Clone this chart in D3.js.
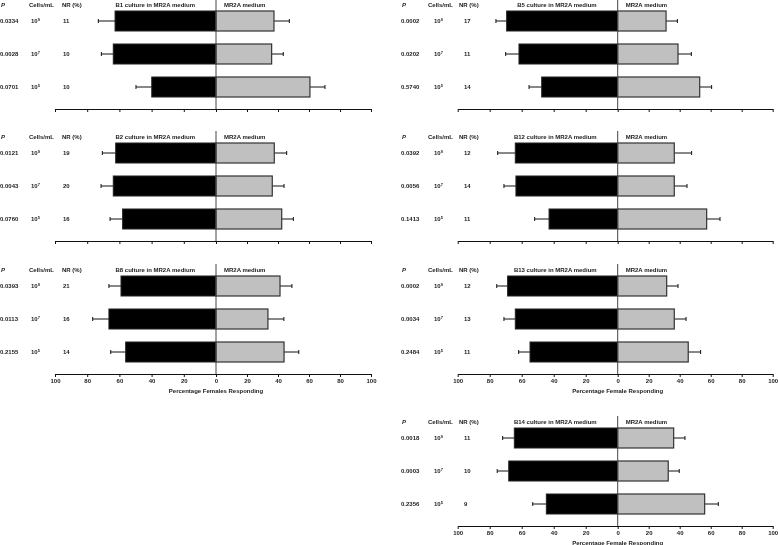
<!DOCTYPE html>
<html>
<head>
<meta charset="utf-8">
<script src="https://cdn.jsdelivr.net/npm/d3@7"></script>
<style>
  body { margin: 0; background: #fff; }
  svg { will-change: transform; }
  text { font-family: "Liberation Sans", Arial, sans-serif; font-weight: bold; fill: #222; }
</style>
</head>
<body>
<div id="chart"></div>
<script>
// data
var strains = ["B1", "B2", "B8", "B5", "B12", "B13", "B14"];
var cellExp = [9, 7, 5];
var pValues = [
  ["0.0334", "0.0028", "0.0701"],
  ["0.0121", "0.0043", "0.0760"],
  ["0.0393", "0.0113", "0.2155"],
  ["0.0002", "0.0202", "0.5740"],
  ["0.0392", "0.0056", "0.1413"],
  ["0.0002", "0.0034", "0.2484"],
  ["0.0018", "0.0003", "0.2356"]
];
var nrValues = [
  [11, 10, 10],
  [19, 20, 16],
  [21, 16, 14],
  [17, 11, 14],
  [12, 14, 11],
  [12, 13, 11],
  [11, 10, 9]
];
// % females choosing the culture side (drawn to the left)
var cultureMean = [
  [62.7, 63.8, 39.9],
  [62.3, 63.8, 58.0],
  [59.0, 66.5, 56.1],
  [69.4, 61.7, 47.5],
  [64.0, 63.6, 42.9],
  [68.8, 64.0, 54.8],
  [64.6, 68.1, 44.6]
];
var cultureErr = [
  [10.4, 7.4, 9.8],
  [8.3, 7.6, 7.8],
  [7.5, 10.1, 9.3],
  [6.7, 8.3, 7.9],
  [11.0, 7.5, 9.0],
  [6.8, 7.1, 7.1],
  [7.3, 7.2, 8.5]
];
// % females choosing the plain medium side (drawn to the right)
var mediumMean = [
  [37.4, 35.9, 60.6],
  [37.6, 36.3, 42.4],
  [41.3, 33.5, 43.9],
  [31.2, 38.9, 52.9],
  [36.5, 36.5, 57.4],
  [31.6, 36.5, 45.5],
  [36.1, 32.6, 56.1]
];
var mediumErr = [
  [9.9, 7.5, 9.7],
  [8.0, 7.6, 7.5],
  [7.7, 10.3, 9.5],
  [7.3, 8.6, 7.7],
  [11.2, 8.2, 8.6],
  [7.3, 7.6, 8.0],
  [7.3, 7.1, 8.8]
];
var tickValues = [-100, -80, -60, -40, -20, 0, 20, 40, 60, 80, 100];
var axisTitles = ["", "", "Percentage Females Responding", "", "", "Percentage Female Responding", "Percentage Female Responding"];

// layout
var W = 778, H = 545;
var columns = [
  {range: [55, 216, 371], p: 0, cells: 29, ten: 31, nr: 62, nrv: 63},
  {range: [457.7, 617.7, 772.7], p: 401, cells: 428, ten: 434, nr: 459, nrv: 464}
];
var panelCol = [0, 0, 0, 1, 1, 1, 1];
var panelTop = [0, 132, 265, 0, 132, 265, 417];
var rowY = [21, 54, 87];
var axisY = 109;
var barH = 20;

var svg = d3.select("#chart").append("svg")
    .attr("width", W)
    .attr("height", H);

strains.forEach(function(name, i) {
  var col = columns[panelCol[i]];
  var x = d3.scaleLinear().domain([-100, 0, 100]).range(col.range);
  var g = svg.append("g").attr("transform", "translate(0," + panelTop[i] + ")");
  var fs = 6;

  // header texts
  g.append("text").attr("x", col.p + 1).attr("y", 5).attr("dy", "0.35em")
      .style("font-size", fs + "px").style("font-style", "italic").text("P");
  g.append("text").attr("x", col.cells).attr("y", 5).attr("dy", "0.35em")
      .style("font-size", fs + "px").text("Cells/mL");
  g.append("text").attr("x", col.nr).attr("y", 5).attr("dy", "0.35em")
      .style("font-size", fs + "px").text("NR (%)");
  g.append("text").attr("x", x(0) - 21).attr("y", 5).attr("dy", "0.35em")
      .attr("text-anchor", "end")
      .style("font-size", fs + "px").text(name + " culture in MR2A medium");
  g.append("text").attr("x", x(0) + 8).attr("y", 5).attr("dy", "0.35em")
      .style("font-size", fs + "px").text("MR2A medium");

  // row texts
  rowY.forEach(function(y, r) {
    g.append("text").attr("x", col.p).attr("y", y).attr("dy", "0.35em")
        .style("font-size", fs + "px").text(pValues[i][r]);
    var t = g.append("text").attr("x", col.ten).attr("y", y).attr("dy", "0.35em")
        .style("font-size", fs + "px");
    t.append("tspan").text("10");
    t.append("tspan").attr("dy", "-2.2").style("font-size", "4px").text(cellExp[r]);
    g.append("text").attr("x", col.nrv).attr("y", y).attr("dy", "0.35em")
        .style("font-size", fs + "px").text(nrValues[i][r]);
  });

  // error bars (behind the bars)
  var eb = g.append("g").attr("stroke", "#111").attr("stroke-width", 1);
  rowY.forEach(function(y, r) {
    var c0 = x(-cultureMean[i][r]), c1 = x(-(cultureMean[i][r] + cultureErr[i][r]));
    var m0 = x(mediumMean[i][r]), m1 = x(mediumMean[i][r] + mediumErr[i][r]);
    eb.append("line").attr("x1", c0).attr("x2", c1).attr("y1", y).attr("y2", y);
    eb.append("line").attr("x1", c1).attr("x2", c1).attr("y1", y - 2).attr("y2", y + 2);
    eb.append("line").attr("x1", m0).attr("x2", m1).attr("y1", y).attr("y2", y);
    eb.append("line").attr("x1", m1).attr("x2", m1).attr("y1", y - 2).attr("y2", y + 2);
  });

  // culture bars
  g.selectAll(".cbar")
      .data(cultureMean[i])
      .enter().append("rect")
      .attr("class", "cbar")
      .attr("x", function(d) { return x(-d); })
      .attr("y", function(d, r) { return rowY[r] - barH / 2; })
      .attr("width", function(d) { return x(0) - x(-d); })
      .attr("height", barH)
      .style("fill", "#000")
      .style("stroke", "#222")
      .style("stroke-width", 1);

  // medium bars
  g.selectAll(".mbar")
      .data(mediumMean[i])
      .enter().append("rect")
      .attr("class", "mbar")
      .attr("x", x(0))
      .attr("y", function(d, r) { return rowY[r] - barH / 2; })
      .attr("width", function(d) { return x(d) - x(0); })
      .attr("height", barH)
      .style("fill", "#c0c0c0")
      .style("stroke", "#333")
      .style("stroke-width", 1.2);

  // centre line
  g.append("line")
      .attr("x1", x(0)).attr("x2", x(0))
      .attr("y1", -1).attr("y2", axisY)
      .style("stroke", "#444").style("stroke-width", 1);

  // x axis
  var hasLabels = axisTitles[i] !== "";
  var xAxis = d3.axisBottom(x)
      .tickValues(tickValues)
      .tickSize(3)
      .tickSizeOuter(0)
      .tickPadding(2)
      .tickFormat(function(d) { return hasLabels ? Math.abs(d) : ""; });
  var ax = g.append("g")
      .attr("transform", "translate(0," + axisY + ")")
      .call(xAxis);
  ax.select(".domain").style("stroke", "#111");
  ax.selectAll(".tick line").style("stroke", "#111");
  ax.selectAll(".tick text")
      .style("font-family", "'Liberation Sans', Arial, sans-serif")
      .style("font-weight", "bold")
      .style("font-size", "6px")
      .style("fill", "#222");

  if (hasLabels) {
    g.append("text")
        .attr("x", x(0))
        .attr("y", axisY + 17)
        .attr("dy", "0.35em")
        .attr("text-anchor", "middle")
        .style("font-size", "6px")
        .text(axisTitles[i]);
  }
});
</script>
</body>
</html>
